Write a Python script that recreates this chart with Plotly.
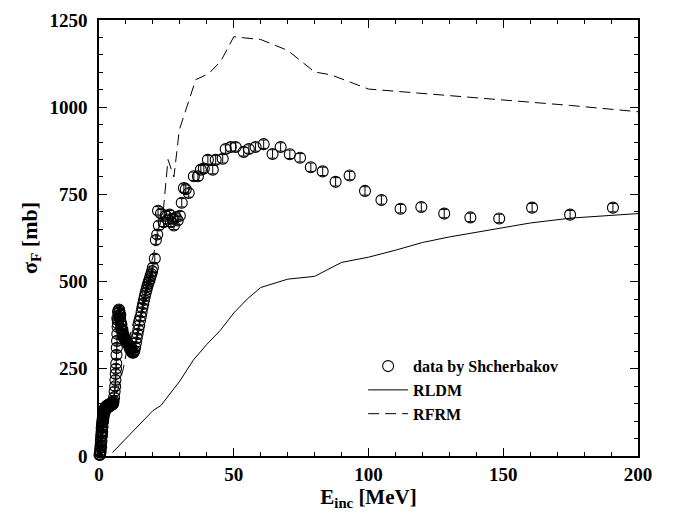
import plotly.graph_objects as go

# ---- experimental data (Shcherbakov) ----
E_data = [0.2, 0.3, 0.4, 0.5, 0.5, 0.6, 0.7, 0.7, 0.8, 0.9, 1.0, 1.0, 1.1, 1.2, 1.3, 1.4, 1.5, 1.6, 1.7, 1.8, 1.9, 2.0, 2.2,
          0.4, 0.6, 0.8, 0.9, 1.1, 1.2, 1.3, 1.5, 1.6, 1.8, 2.0, 2.1, 2.3, 2.5,
          2.4, 2.6, 2.8, 3.0, 3.2, 3.4, 3.6, 3.8, 4.0, 4.2, 4.4, 4.6, 4.8, 5.0, 5.2, 5.4,
          2.7, 2.9, 3.1, 3.3, 3.5, 3.7, 3.9, 4.1, 4.3, 4.5, 4.7, 4.9, 5.1, 5.3,
          5.6, 5.8, 6.0, 6.1, 6.2, 6.3, 6.4, 6.5, 6.6, 6.7, 6.8, 6.9, 7.0, 7.2, 7.4, 7.6,
          7.0, 7.3, 7.6, 7.8, 8.0, 8.2, 8.4, 8.6, 8.8, 9.0, 9.2,
          6.8, 7.1, 7.5, 7.9, 8.3, 8.7, 9.1, 9.4,
          9.5, 9.8, 10.1, 10.4, 10.7, 11.0, 11.3, 11.6, 11.9, 12.2, 12.5, 12.8, 13.1, 13.4,
          13.7, 14.0, 14.3, 14.6, 14.9, 15.2, 15.5, 15.8, 16.1, 16.4, 16.7, 17.0, 17.3, 17.6, 17.9, 18.2, 18.5,
          18.8, 19.1, 19.4, 19.7, 20.0, 20.7, 21.1,
          21.6, 21.9, 22.2, 23.0, 24.0, 24.8, 25.5, 26.2, 26.7, 27.4, 27.8, 28.5, 29.2, 30.0,
          30.7, 31.5, 32.2, 33.3, 35.2, 36.7, 37.8, 38.9, 40.4, 42.2, 43.3, 45.9, 47.0, 48.9, 50.7,
          53.7, 55.6, 58.1, 61.1, 64.4, 67.4, 70.8, 74.6, 78.6, 83.0, 87.8, 93.0, 98.7, 104.8, 111.9,
          119.6, 128.1, 137.8, 148.5, 160.7, 174.8, 190.7]
sigma_data = [3, 6, 10, 16, 22, 30, 38, 46, 55, 64, 72, 80, 88, 95, 102, 108, 114, 119, 123, 127, 131, 134, 137,
              4, 12, 26, 42, 58, 70, 84, 98, 106, 116, 124, 128, 133, 136,
              139, 141, 143, 144, 145, 146, 147, 148, 148, 149, 150, 151, 152, 153, 155, 158,
              135, 137, 139, 140, 141, 142, 143, 144, 145, 146, 147, 148, 149, 151,
              168, 185, 200, 218, 235, 250, 265, 290, 310, 330, 350, 370, 390, 410, 420, 412,
              380, 400, 405, 395, 385, 375, 365, 358, 350, 345, 340,
              395, 415, 418, 404, 378, 362, 348, 336,
              338, 333, 330, 327, 322, 318, 312, 306, 302, 298, 296, 297, 302, 312,
              325, 338, 350, 362, 375, 388, 400, 412, 425, 436, 447, 458, 467, 476, 485, 493, 500,
              507, 515, 522, 530, 540, 566, 619,
              635, 703, 661, 695, 670, 689, 678, 692, 670, 680, 661, 684, 675, 689,
              726, 768, 765, 754, 802, 802, 821, 824, 849, 821, 849, 852, 880, 886, 886,
              872, 880, 886, 894, 866, 886, 865, 855, 828, 816, 786, 804, 760, 734, 709,
              714, 695, 684, 681, 712, 692, 712]

# ---- RLDM calculation ----
E_rldm = [5, 10, 15, 20, 23, 27, 30, 35, 40, 45, 50, 55, 60, 70, 80, 90, 100, 110, 120, 130, 140, 150, 160, 175, 190, 200]
sigma_rldm = [10, 50, 90, 130, 145, 185, 215, 275, 320, 360, 410, 450, 483, 507, 515, 555, 570, 590, 612, 628, 642,
              655, 668, 682, 690, 695]

# ---- RFRM calculation ----
E_rfrm = [1, 3, 6, 9, 11, 14, 17, 20, 22, 24, 25.6, 27.8, 29.8, 35.9, 40.7, 45.2, 48.5, 50, 60, 70, 80, 86, 100,
          120, 150, 175, 200]
sigma_rfrm = [100, 140, 160, 250, 330, 420, 500, 570, 640, 715, 850, 800, 935, 1079, 1096, 1132, 1180, 1202, 1194,
              1163, 1101, 1093, 1052, 1040, 1020, 1005, 987]

x_ticks = [0, 50, 100, 150, 200]
y_ticks = [0, 250, 500, 750, 1000, 1250]

FONT = "Liberation Serif"

fig = go.Figure()
fig.add_trace(go.Scatter(x=E_rldm, y=sigma_rldm, mode="lines", name="RLDM", legendrank=2,
                         line=dict(color="black", width=1)))
fig.add_trace(go.Scatter(x=E_rfrm, y=sigma_rfrm, mode="lines", name="RFRM", legendrank=3,
                         line=dict(color="black", width=1, dash="11px,6px")))
fig.add_trace(go.Scatter(x=E_data, y=sigma_data, mode="markers", name="data by Shcherbakov", legendrank=1,
                         cliponaxis=False,
                         marker=dict(symbol="circle-open", size=11, color="black", line=dict(width=1.1, color="black")),
                         error_y=dict(type="constant", value=12, width=3, thickness=1, color="black")))

axis_common = dict(showline=True, linecolor="black", linewidth=1.5, mirror="allticks",
                   ticks="inside", ticklen=8, tickwidth=1.2, tickcolor="black",
                   showgrid=False, zeroline=False,
                   tickfont=dict(family=FONT, size=19, color="black", weight="bold"))

fig.update_xaxes(range=[0, 200], tickvals=x_ticks, ticktext=[str(v) for v in x_ticks],
                 ticklabelstandoff=0,
                 minor=dict(dtick=10, ticklen=4, ticks="inside", tickcolor="black", tickwidth=1),
                 title=dict(text="E<sub>inc</sub> [MeV]", standoff=0,
                            font=dict(family=FONT, size=21, color="black", weight="bold")),
                 **axis_common)
fig.update_yaxes(range=[0, 1250], tickvals=y_ticks, ticktext=[str(v) for v in y_ticks],
                 ticklabelstandoff=6,
                 minor=dict(dtick=50, ticklen=4, ticks="inside", tickcolor="black", tickwidth=1),
                 title=dict(text="σ<sub>F</sub> [mb]", standoff=6,
                            font=dict(family=FONT, size=22, color="black", weight="bold")),
                 **axis_common)

fig.update_layout(
    width=680, height=516,
    margin=dict(l=99, r=42, t=10, b=60),
    paper_bgcolor="white", plot_bgcolor="white",
    showlegend=True,
    legend=dict(x=0.49, y=0.245, xanchor="left", yanchor="top", bgcolor="rgba(0,0,0,0)",
                font=dict(family=FONT, size=16, color="black", weight="bold"),
                tracegroupgap=0, itemwidth=40),
)

fig.write_html("out.html")
